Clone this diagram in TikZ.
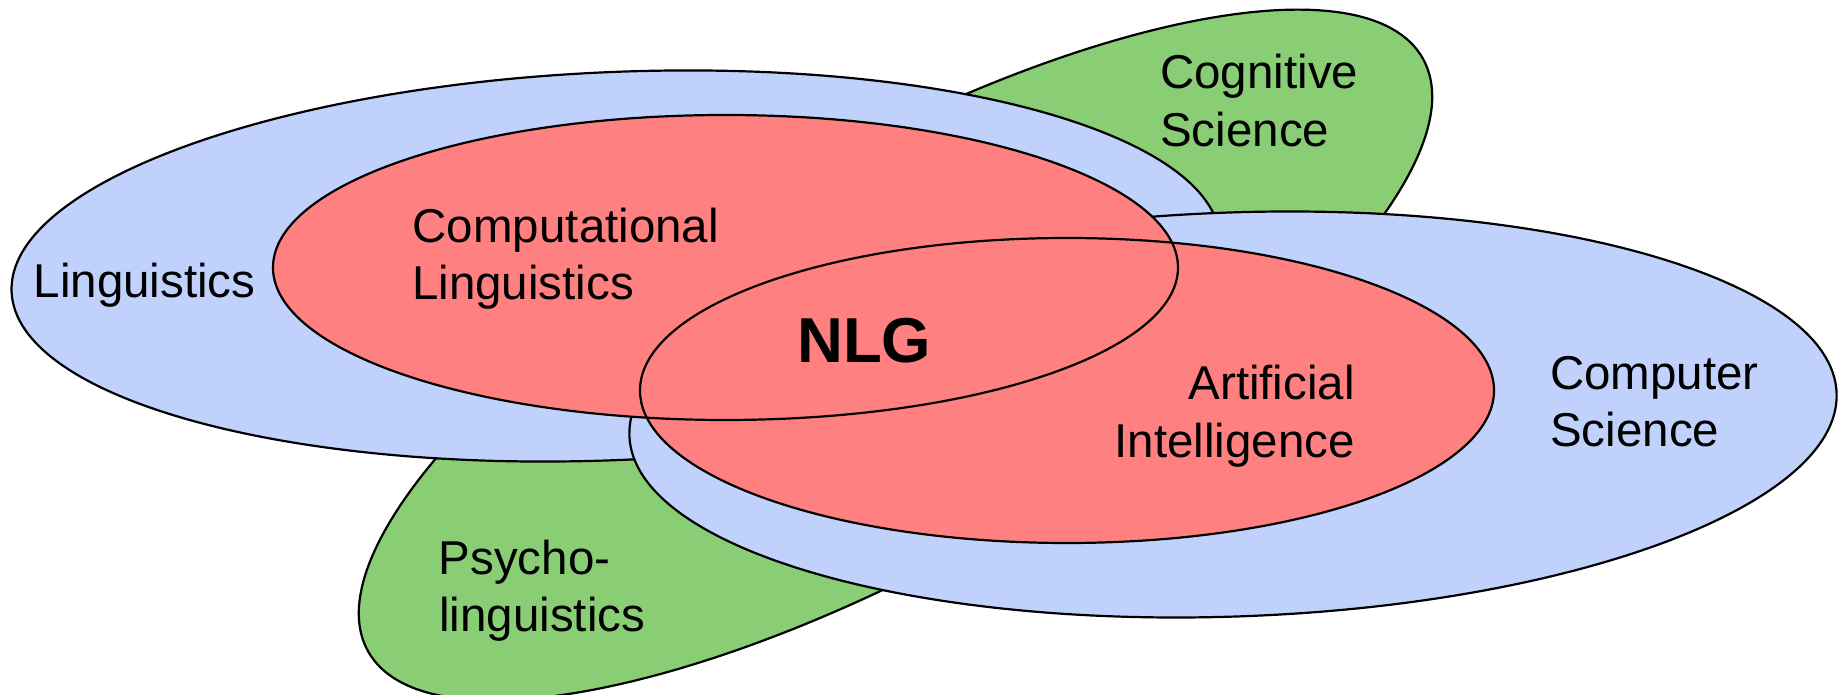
\documentclass[tikz,border=0pt]{standalone}
\usepackage{fontspec}
\setmainfont{Liberation Sans}
\definecolor{bluefill}{RGB}{192,210,252}
\definecolor{redfill}{RGB}{255,128,128}
\definecolor{greenfill}{RGB}{137,205,117}
\begin{document}
\begin{tikzpicture}[x=1pt,y=1pt,
  edgeline/.style={draw=black, line width=2.2pt},
  lbl/.style={inner sep=0pt, font=\fontsize{47.5}{57}\selectfont},
  biglbl/.style={inner sep=0pt, font=\fontsize{63.5}{70}\selectfont\bfseries}]
\useasboundingbox (0,0) rectangle (1845,695);
% Cognitive Science / Psycholinguistics (back)
\path[fill=greenfill, edgeline, rotate around={29.35:(895.5,340)}] (895.5,340) ellipse [x radius=605, y radius=203];
% Linguistics
\path[fill=bluefill, edgeline, rotate around={2.45:(616,429)}] (616,429) ellipse [x radius=605, y radius=194];
% Computer Science
\path[fill=bluefill, edgeline, rotate around={2.02:(1233,280.5)}] (1233,280.5) ellipse [x radius=604, y radius=202];
% Computational Linguistics and Artificial Intelligence
\fill[redfill] (725.5,427.5) ellipse [x radius=452.5, y radius=152.5];
\fill[redfill] (1067,304.5) ellipse [x radius=427, y radius=152.5];
\draw[edgeline] (725.5,427.5) ellipse [x radius=452.5, y radius=152.5];
\draw[edgeline] (1067,304.5) ellipse [x radius=427, y radius=152.5];
% labels
\node[lbl, anchor=base west] (ling) at (33.5,397) {Linguistics};
\node[lbl, anchor=base west] (cl1) at (412.5,452) {Computational};
\node[lbl, anchor=base west] (cl2) at (412,395) {Linguistics};
\node[lbl, anchor=base west] (cog1) at (1160,606) {Cognitive};
\node[lbl, anchor=base west] (cog2) at (1160,548) {Science};
\node[lbl, anchor=base west] (psy1) at (438.5,120) {Psycho-};
\node[lbl, anchor=base west] (psy2) at (439,63) {linguistics};
\node[lbl, anchor=base west] (cs1) at (1550,305) {Computer};
\node[lbl, anchor=base west] (cs2) at (1550,248) {Science};
\node[lbl, anchor=base east] (ai1) at (1355,295) {Artificial};
\node[lbl, anchor=base east] (ai2) at (1355,237) {Intelligence};
\node[biglbl, anchor=base west] (nlg) at (797,332) {NLG};
\end{tikzpicture}
\end{document}
